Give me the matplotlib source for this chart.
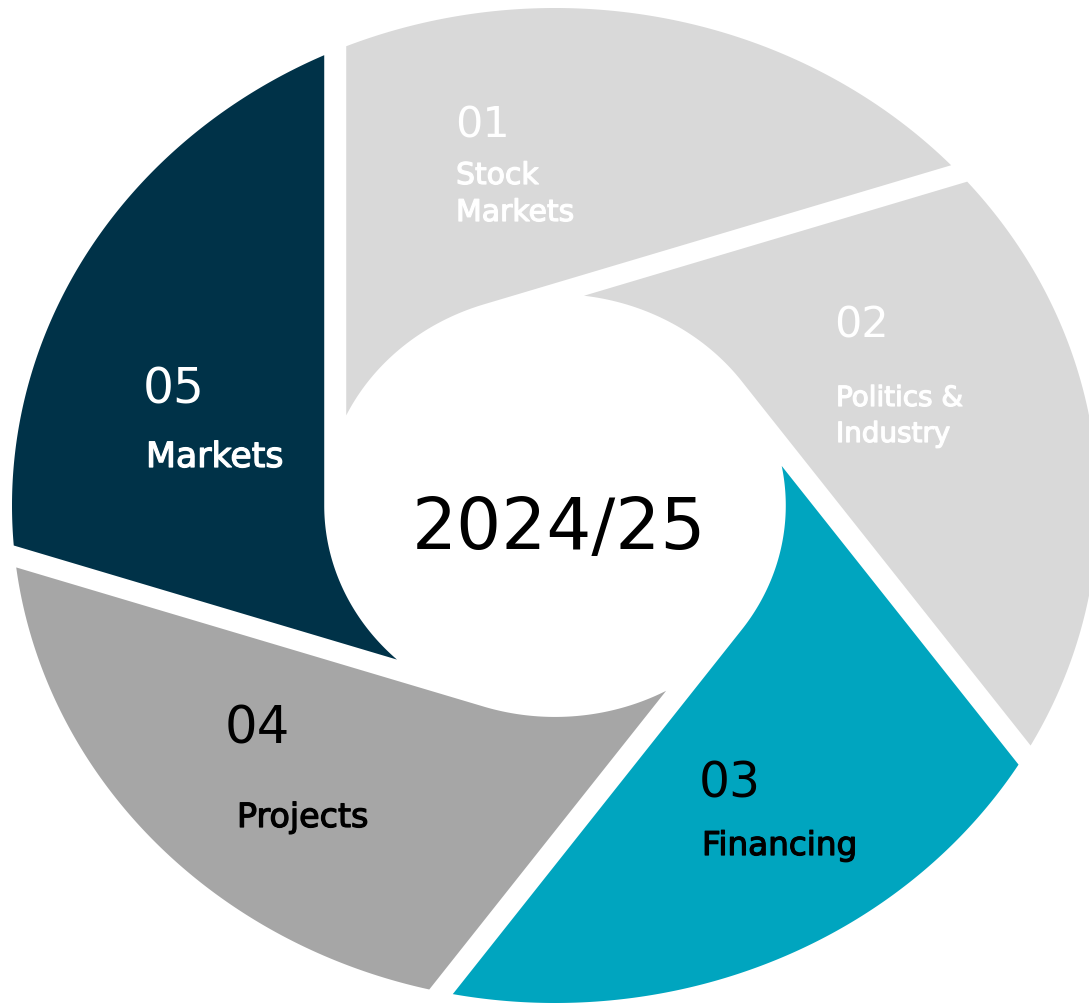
"""Five-blade shutter diagram for the 2024/25 topics."""
import numpy as np
import matplotlib
matplotlib.use('Agg')
import matplotlib.pyplot as plt
import matplotlib.patheffects as pe
from matplotlib.patches import Polygon

# --- content -------------------------------------------------------------
numbers = ['01', '02', '03', '04', '05']
topics = ['Stock\nMarkets', 'Politics &\nIndustry', 'Financing', 'Projects', 'Markets']
blade_colors = ['#D9D9D9', '#D9D9D9', '#00A5BF', '#A6A6A6', '#003248']
text_colors = ['white', 'white', 'black', 'black', 'white']
centre_label = '2024/25'

# --- layout (pixels of the 1089x1006 canvas) -----------------------------
W, H = 1089, 1006
cx, cy = 555, 505.5          # centre of the ring
rx, ry = 543, 497.5          # outer radius (the artwork is stretched sideways)
r_in = 0.425                 # inner hole radius, relative to outer
gap = 0.0405                 # white gap between blades
first_tangent = 108          # tangent angle of blade 01, blades go clockwise
step = 72

# baseline positions (px from left / top) of the number and of the topic lines
num_pos = [(455, 137), (834, 338), (699, 797), (225, 743), (143, 403)]
num_size = [31, 31, 35, 37, 35]
topic_pos = [(456, 184), (836, 406), (702, 855), (237, 827), (146, 467)]
topic_size = [21.5, 20, 23.5, 24, 25]
topic_lead = [37, 36, 0, 0, 0]


def blade(theta, r, g, n=240):
    """Blade tangent to the hole at angle theta, cut by the next blade's edge."""
    t = np.radians(theta)
    t2 = np.radians(theta + step)
    a1, a2 = t - np.arccos(r), t2 - np.arccos(r - g)
    c = t2 - np.arccos((r - g) / r)
    out = np.linspace(a1, a2, n)
    inn = np.linspace(c, t, n)
    xs = np.r_[r * np.cos(t), np.cos(out), r * np.cos(inn)]
    ys = np.r_[r * np.sin(t), np.sin(out), r * np.sin(inn)]
    return np.c_[xs, ys]


def to_data(px, py):
    return (px - cx) / rx, (cy - py) / ry


fig = plt.figure(figsize=(W / 100, H / 100), dpi=100)
ax = fig.add_axes([0, 0, 1, 1])
ax.set_xlim(-cx / rx, (W - cx) / rx)
ax.set_ylim(-(H - cy) / ry, cy / ry)
ax.axis('off')

for k, col in enumerate(blade_colors):
    theta = first_tangent - step * k
    ax.add_patch(Polygon(blade(theta, r_in, gap), closed=True, facecolor=col,
                         edgecolor='none'))

for k in range(len(numbers)):
    x, y = to_data(*num_pos[k])
    ax.text(x, y, numbers[k], fontsize=num_size[k], color=text_colors[k],
            ha='left', va='baseline')
    # topic names are set in a medium weight: thicken the book face a little
    heavier = [pe.withStroke(linewidth=0.9, foreground=text_colors[k])]
    for j, line in enumerate(topics[k].split('\n')):
        x, y = to_data(topic_pos[k][0], topic_pos[k][1] + j * topic_lead[k])
        ax.text(x, y, line, fontsize=topic_size[k], color=text_colors[k],
                ha='left', va='baseline', path_effects=heavier)

x, y = to_data(559, 549)
ax.text(x, y, centre_label, fontsize=51, color='black', ha='center', va='baseline')

fig.savefig('out.png', dpi=100, facecolor='white')
